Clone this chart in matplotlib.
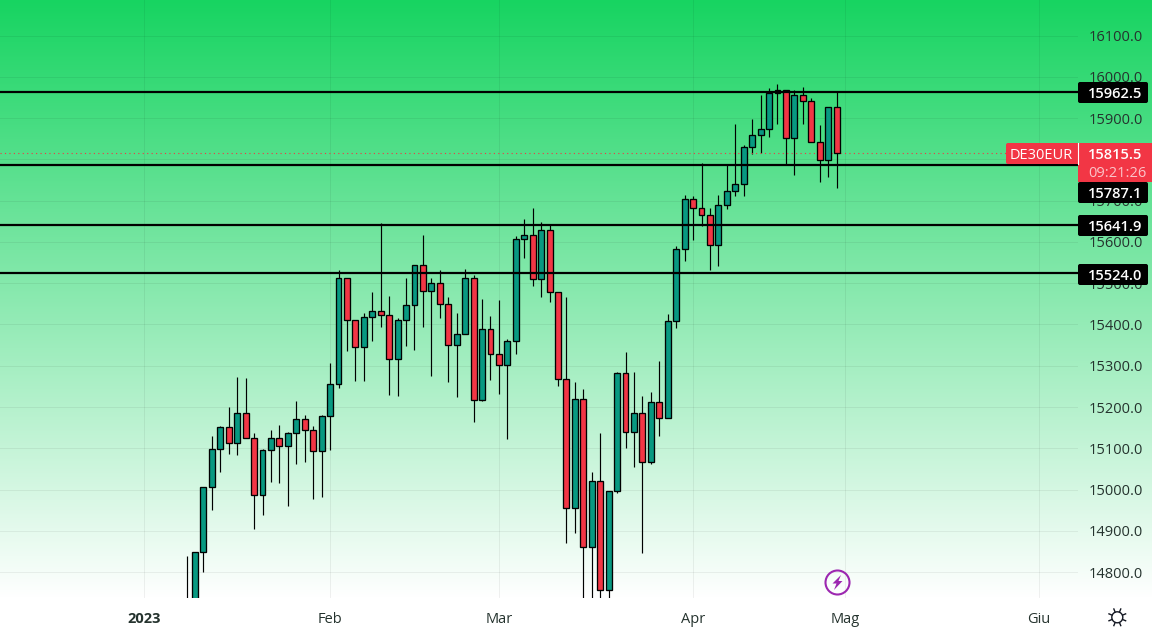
import numpy as np
import matplotlib
matplotlib.use("Agg")
import matplotlib.pyplot as plt
from matplotlib.patches import Circle, FancyBboxPatch, Polygon, Rectangle

plt.rcParams['font.family'] = ['Open Sans', 'DejaVu Sans']

# daily DE30EUR candles, bar 0 is the first session of 2023
first_bar = 5
opens = [14660, 14690, 14849, 15006.5, 15098.6, 15151.9, 15113.1, 15185.8, 15125.2, 14987.1,
         15096.1, 15125.2, 15105.8, 15137.3, 15171.3, 15144.6, 15093.7, 15178.5, 15256.1, 15512.9,
         15411.1, 15345.7, 15418.4, 15433, 15423.3, 15316.6, 15411.1, 15447.5, 15544.4, 15481.4,
         15500.8, 15449.9, 15350.6, 15377.2, 15512.9, 15217.3, 15389.3, 15328.8, 15302.1, 15360.3,
         15607.4, 15617.1, 15510.5, 15629.2, 15479, 15268.2, 14955.6, 15219.7, 14861.1, 15021,
         14757, 14996.8, 15282.7, 15139.8, 15185.8, 15067.8, 15212.4, 15173.7, 15408.7, 15583.2,
         15704.3, 15682.5, 15665.6, 15592.9, 15689.8, 15723.7, 15740.7, 15830.3, 15859.4, 15874,
         15961.2, 15968.4, 15852.1, 15956.3, 15941.8, 15842.4, 15798.8, 15927.2]
highs = [14840, 14849, 15006.5, 15130.8, 15155, 15201, 15273, 15270.6, 15137.3, 15098.6,
         15145.3, 15157.5, 15140.5, 15214.9, 15181, 15155, 15181, 15307, 15532.3, 15512.9,
         15411.1, 15428.1, 15479.7, 15646.9, 15469.3, 15416, 15512.9, 15544.4, 15617.1, 15512.9,
         15532.3, 15466.9, 15428.1, 15534.7, 15520.2, 15462, 15420.8, 15459.6, 15365.1, 15613.7,
         15655.9, 15682.5, 15648.6, 15641.3, 15479, 15466.9, 15260.9, 15244, 15042.8, 15137.3,
         14996.8, 15285.1, 15333.6, 15285.1, 15227, 15237.4, 15312.5, 15425.7, 15591.2, 15714,
         15711.6, 15791.6, 15682.5, 15714, 15786.7, 15886, 15835.2, 15898.2, 15956.3, 15973.3,
         15983, 15968.4, 15968.4, 15975.7, 15949, 15883.6, 15927.2, 15963.6]
lows = [14640, 14660, 14800, 14949.8, 15042, 15085.5, 15083, 15125.2, 14903.8, 14937.7,
        15017.6, 15015.2, 14959.5, 15061.3, 15066.1, 14976.4, 14981.3, 15095.2, 15245.4, 15335.1,
        15262.4, 15262.4, 15359.3, 15393.2, 15228.4, 15226, 15347.2, 15337.5, 15393.2, 15274.5,
        15415, 15260, 15223.6, 15377.2, 15163, 15213.9, 15264.8, 15230.9, 15121.8, 15327.8,
        15560.4, 15492.6, 15465.9, 15453.8, 15250.3, 14869.8, 14894.1, 14700, 14700, 14700,
        14700, 14992, 15100, 15054, 14847.3, 15063, 15131, 15173.7, 15390.8, 15553.1,
        15605.7, 15637.9, 15531.3, 15541, 15680.1, 15710.6, 15710.6, 15812.4, 15814.8, 15853.6,
        15885.1, 15789.1, 15761.5, 15885.1, 15842.4, 15744.5, 15756.7, 15730]
closes = [14690, 14849, 15006.5, 15098.6, 15151.9, 15113.1, 15185.8, 15125.2, 14987.1, 15096.1,
          15125.2, 15105.8, 15137.3, 15171.3, 15144.6, 15093.7, 15178.5, 15256.1, 15512.9, 15411.1,
          15345.7, 15418.4, 15433, 15423.3, 15316.6, 15411.1, 15447.5, 15544.4, 15481.4, 15500.8,
          15449.9, 15350.6, 15377.2, 15512.9, 15217.3, 15389.3, 15328.8, 15302.1, 15360.3, 15607.4,
          15617.1, 15510.5, 15629.2, 15479, 15268.2, 14955.6, 15219.7, 14861.1, 15021, 14757,
          14996.8, 15282.7, 15139.8, 15185.8, 15067.8, 15212.4, 15173.7, 15408.7, 15583.2, 15704.3,
          15682.5, 15665.6, 15592.9, 15689.8, 15723.7, 15740.7, 15830.3, 15859.4, 15874, 15961.2,
          15968.4, 15852.1, 15956.3, 15941.8, 15842.4, 15798.8, 15927.2, 15815.5]

levels = [15962.5, 15787.1, 15641.9, 15524.0]
last_price = 15815.5
price_ticks = [14800, 14900, 15000, 15100, 15200, 15300, 15400, 15500, 15600, 15700, 15800,
               15900, 16000, 16100]
month_bars = [0, 22, 42, 65, 83, 106]
month_labels = ['2023', 'Feb', 'Mar', 'Apr', 'Mag', 'Giu']

UP = '#089981'
DOWN = '#F23645'
W, H = 1152, 632
PANE_W, PANE_H = 1078, 598

fig = plt.figure(figsize=(W / 100, H / 100), dpi=100)

# background gradient runs under the price scale too
bg = fig.add_axes([0, 0, 1, 1], zorder=0)
bg.axis('off')
shade = np.linspace(0, 1, PANE_H)[:, None]
top = np.array([23, 212, 97]) / 255
grad = (top + (1 - top) * shade)[:, None, :].reshape(PANE_H, 1, 3)
bg.imshow(grad, extent=(0, W, PANE_H, 0), aspect='auto')
bg.set_xlim(0, W)
bg.set_ylim(H, 0)

ax = fig.add_axes([0, 1 - PANE_H / H, PANE_W / W, PANE_H / H], zorder=1)
ax.patch.set_alpha(0)
ax.set_xlim(-17.1, 110.6)
ax.set_ylim(14737.3, 16186.2)
for s in ax.spines.values():
    s.set_visible(False)

ax.yaxis.tick_right()
ax.set_yticks(price_ticks)
ax.set_yticklabels(['%.1f' % p for p in price_ticks])
ax.set_xticks(month_bars)
ax.set_xticklabels(month_labels)
ax.tick_params(axis='y', length=0, pad=7.5, labelsize=10.5, labelcolor='#25332e')
ax.tick_params(axis='x', length=0, pad=10, labelsize=10.5, labelcolor='#25332e')
ax.get_xticklabels()[0].set_fontweight('bold')
ax.grid(True, color='black', alpha=0.06, lw=0.72)
ax.set_axisbelow(True)

bars = np.arange(first_bar, first_bar + len(opens))
o, c = np.array(opens), np.array(closes)
colors = [UP if b else DOWN for b in c >= o]
ax.vlines(bars, lows, highs, color='black', lw=0.85, zorder=2)
ax.bar(bars, np.abs(c - o), bottom=np.minimum(o, c), width=0.7, color=colors,
       edgecolor='black', lw=0.95, zorder=3)

for level in levels:
    ax.axhline(level, color='black', lw=1.6, zorder=4)
ax.axhline(last_price, color=DOWN, lw=0.8, ls=(0, (1, 3)), zorder=2)

# price tags and icons go on top, in pixel units
top_ax = fig.add_axes([0, 0, 1, 1], zorder=2)
top_ax.set_xlim(0, W)
top_ax.set_ylim(H, 0)
top_ax.axis('off')


def tag(x, y, w, h, color):
    top_ax.add_patch(FancyBboxPatch((x + 2, y + 2), w - 4, h - 4, boxstyle='round,pad=2',
                                    fc=color, ec='none'))


for level, yc in zip(levels, [92.5, 192.5, 225.5, 274.5]):
    tag(1078, yc - 10.5, 70, 21, 'black')
    top_ax.text(1115, yc, '%.1f' % level, color='white', fontsize=10.5, ha='center',
                va='center_baseline', fontweight='semibold')

tag(1006, 143, 74, 21, DOWN)
top_ax.add_patch(Rectangle((1078, 143), 74, 39, fc=DOWN, ec='none'))
top_ax.plot([1077.5, 1077.5], [143, 164], color='white', lw=0.8)
top_ax.text(1041, 153.5, 'DE30EUR', color='white', fontsize=10.5, ha='center',
            va='center_baseline', fontweight='medium')
top_ax.text(1115, 153.5, '%.1f' % last_price, color='white', fontsize=10.5, ha='center',
            va='center_baseline', fontweight='semibold')
top_ax.text(1117, 171.5, '09:21:26', color='#fbc4c9', fontsize=10.5, ha='center',
            va='center_baseline', fontweight='medium')

# lightning badge
purple = '#9C27B0'
top_ax.add_patch(Circle((837.5, 582.5), 12, fc='none', ec=purple, lw=1.5))
top_ax.add_patch(Polygon([(841, 575), (832.5, 583.5), (836.5, 583.5), (834, 590),
                          (842.5, 581), (838.5, 581)], fc=purple, ec='none'))

# light theme toggle
top_ax.add_patch(Circle((1117.3, 617.3), 5.5, fc='none', ec='#131722', lw=1))
for a in np.arange(8) * np.pi / 4 + np.pi / 8:
    top_ax.plot([1117.3 + 6 * np.cos(a), 1117.3 + 9 * np.cos(a)],
                [617.3 + 6 * np.sin(a), 617.3 + 9 * np.sin(a)], color='#131722', lw=1)

fig.savefig('out.png', dpi=100)
